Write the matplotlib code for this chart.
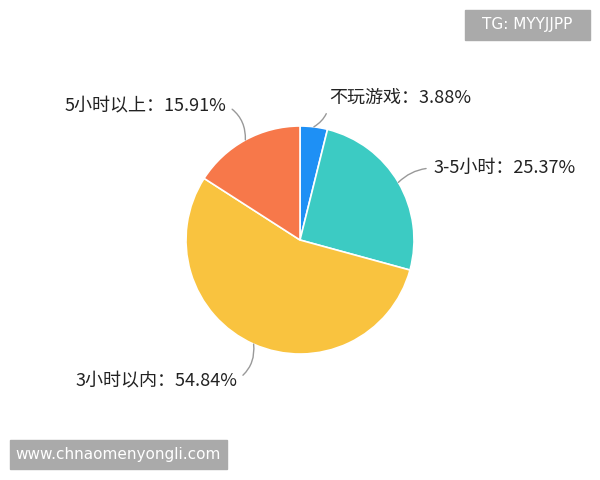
import matplotlib.pyplot as plt
from matplotlib.patches import Rectangle
import numpy as np

plt.rcParams['font.family'] = ['Noto Sans CJK SC', 'DejaVu Sans']

# data, clockwise from 12 o'clock
labels = ['不玩游戏', '3-5小时', '3小时以内', '5小时以上']
values = [3.88, 25.37, 54.84, 15.91]
colors = ['#1e90f5', '#3ccbc3', '#f9c33f', '#f7784a']

# label text anchor (pixel coords, y downwards) and alignment
label_pos = [(329, 98), (433, 168), (237, 380), (226, 105)]
label_ha = ['left', 'left', 'right', 'right']
label_rad = [-0.3, 0.2, 0.3, -0.3]

W, H = 600, 480
cx, cy, r = 300, 240, 114

fig = plt.figure(figsize=(6, 4.8), dpi=100)
ax = fig.add_axes([0, 0, 1, 1])

wedges, _ = ax.pie(values, colors=colors, startangle=90, counterclock=False,
                   center=(cx, H - cy), radius=r,
                   wedgeprops=dict(edgecolor='white', linewidth=1.2))
ax.set_xlim(0, W)
ax.set_ylim(0, H)
ax.axis('off')

for w, lab, v, (tx, ty), ha, rad in zip(wedges, labels, values, label_pos,
                                        label_ha, label_rad):
    mid = np.deg2rad((w.theta1 + w.theta2) / 2)
    ex = cx + r * np.cos(mid)
    ey = (H - cy) + r * np.sin(mid)
    rel = (0, 0.5) if ha == 'left' else (1, 0.5)
    ax.annotate(f'{lab}：{v:.2f}%', xy=(ex, ey), xytext=(tx, H - ty),
                ha=ha, va='center', fontsize=13, color='#222222', zorder=4,
                arrowprops=dict(arrowstyle='-', color='#999999', lw=1.0,
                                shrinkA=3, shrinkB=0, relpos=rel,
                                connectionstyle=f'arc3,rad={rad}'))

# watermarks
ax.add_patch(Rectangle((465, H - 40), 125, 30, color='#aaaaaa', zorder=5))
ax.text(527.5, H - 25, 'TG: MYYJJPP', color='white', fontsize=11,
        ha='center', va='center', family='DejaVu Sans', zorder=6)
ax.add_patch(Rectangle((10, H - 469), 217, 29, color='#aaaaaa', zorder=5))
ax.text(118.5, H - 454.5, 'www.chnaomenyongli.com', color='white', fontsize=11,
        ha='center', va='center', family='DejaVu Sans', zorder=6)

fig.savefig('out.png', dpi=100)
